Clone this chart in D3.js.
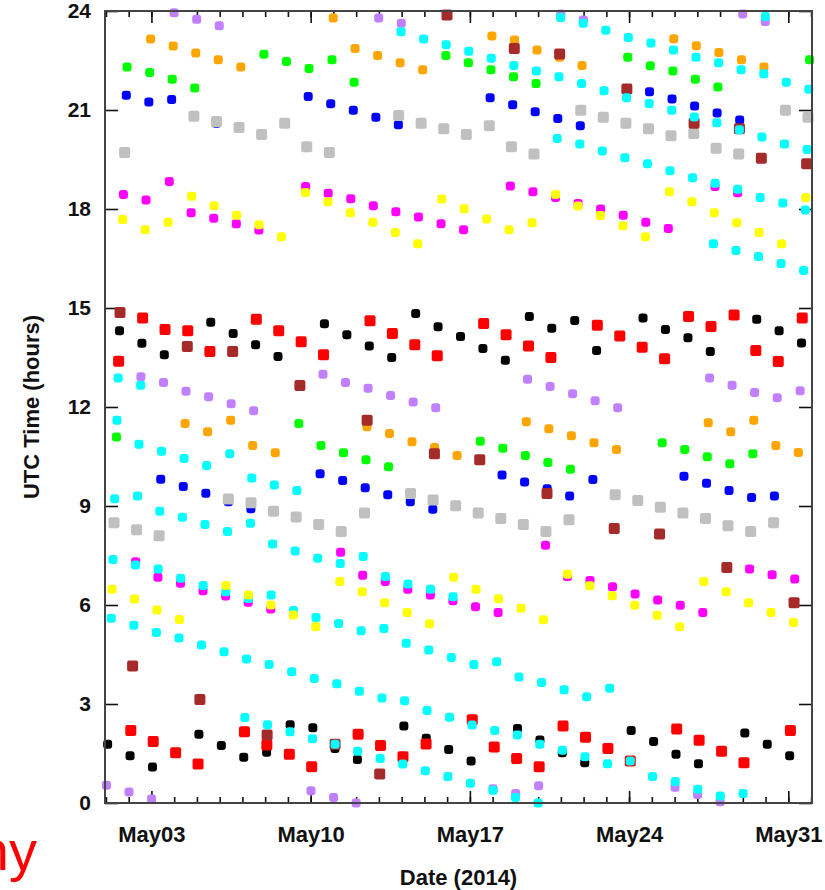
<!DOCTYPE html>
<html>
<head>
<meta charset="utf-8">
<script src="https://cdn.jsdelivr.net/npm/d3@7"></script>
<style>
  body { margin: 0; background: #fff; }
  svg { display: block; font-family: 'Liberation Sans', Arial, Helvetica, sans-serif; }
</style>
</head>
<body>
<svg id="chart" width="825" height="890"></svg>
<script>
// every point is [day of May 2014, UTC hour of the pass]
const black = [
  [1,1.78],[2,1.43],[3,1.09],[5,2.08],[6,1.74],[7,1.39],[8,1.54],[9,2.37],[10,2.28],[11,1.65],[12,1.32],
  [14,2.33],[15,1.96],[16,1.62],[17,1.27],[19,2.26],[20,1.91],[21,1.52],[22,1.22],[24,2.2],[25,1.86],
  [26,1.48],[27,1.19],[29,2.12],[30,1.78],[31,1.43],
  [1,14.31],[2,13.93],[3,13.58],[5,14.57],[6,14.23],[7,13.89],[8,13.53],[10,14.52],[11,14.19],[12,13.85],
  [13,13.5],[14,14.83],[15,14.43],[16,14.14],[17,13.77],[18,13.42],[19,14.74],[20,14.39],[21,14.62],
  [22,13.71],[24,14.7],[25,14.35],[26,14.1],[27,13.68],[29,14.66],[30,14.31],[31,13.94]
];
const red = [
  [2,2.2],[3,1.86],[4,1.52],[5,1.18],[7,2.16],[8,1.76],[9,1.48],[10,1.1],[12,2.08],[13,1.74],[14,1.4],
  [15,1.79],[17,2.52],[18,1.7],[19,1.35],[20,1.1],[21,2.33],[22,1.99],[23,1.65],[24,1.27],[26,2.24],
  [27,1.9],[28,1.57],[29,1.22],[31,2.2],
  [1,13.39],[2,14.7],[3,14.35],[4,14.31],[5,13.68],[7,14.66],[8,14.31],[9,13.98],[10,13.58],[12,14.61],
  [13,14.23],[14,13.89],[15,13.55],[17,14.53],[18,14.19],[19,13.85],[20,13.5],[22,14.48],[23,14.15],
  [24,13.81],[25,13.46],[26,14.74],[27,14.44],[28,14.79],[29,13.71],[30,13.38],[31,14.7]
];
const brown = [
  [1,14.86],[2,4.15],[4,13.83],[5,3.14],[6,13.68],[8,2.06],[9,12.65],[11,1.78],[12,11.6],[13,0.88],
  [15,10.58],[15,23.88],[17,10.4],[18,22.86],[20,9.38],[20,22.7],[23,8.32],[23,21.64],[25,8.15],
  [26,20.6],[28,7.14],[28,20.43],[29,19.54],[31,6.07],[31,19.37]
];
const gray = [
  [1,8.49],[1,19.71],[2,8.28],[3,8.1],[4,20.81],[5,20.65],[6,9.21],[6,20.47],[7,9.1],[7,20.26],[8,8.84],
  [8,20.6],[9,8.67],[9,19.89],[10,8.44],[10,19.71],[11,8.23],[12,8.79],[13,20.83],[14,9.38],[14,20.6],
  [15,9.18],[15,20.43],[16,9.01],[16,20.26],[17,8.79],[17,20.52],[18,8.62],[18,19.89],[19,8.44],
  [19,19.67],[20,8.23],[21,8.58],[21,20.99],[22,20.78],[23,9.34],[23,20.6],[24,9.17],[24,20.43],
  [25,8.96],[25,20.22],[26,8.79],[26,20.29],[27,8.62],[27,19.84],[28,8.4],[28,19.67],[29,8.23],
  [30,8.49],[30,20.99],[31,20.78]
];
const blue = [
  [1,21.45],[2,21.24],[3,21.32],[3,9.81],[4,9.59],[5,9.39],[5,20.6],[6,9.13],[7,8.92],[9,21.41],[10,9.98],
  [10,21.19],[11,9.77],[11,20.99],[12,9.55],[12,20.78],[13,9.34],[13,20.55],[14,9.13],[15,8.9],[17,21.37],
  [18,9.94],[18,21.16],[19,9.73],[19,20.95],[20,9.52],[20,20.74],[21,9.3],[21,20.52],[22,9.8],[24,21.55],
  [25,21.33],[26,9.9],[26,21.12],[27,9.69],[27,20.91],[28,9.47],[28,20.7],[29,9.26],[30,9.3]
];
const green = [
  [1,11.09],[1,22.3],[2,22.14],[3,21.93],[4,21.67],[7,22.69],[8,22.47],[9,11.5],[9,22.26],[10,10.83],
  [10,22.52],[11,10.61],[11,21.84],[12,10.4],[13,10.19],[15,22.65],[16,22.43],[17,10.96],[17,22.22],
  [18,10.75],[18,22.01],[19,10.53],[19,21.8],[20,10.32],[21,10.11],[23,22.6],[24,22.34],[25,10.92],
  [25,22.18],[26,10.71],[26,21.93],[27,10.49],[27,21.7],[28,10.28],[29,10.58],[31,22.52]
];
const orange = [
  [2,23.15],[3,22.94],[4,11.5],[4,22.73],[5,11.25],[5,22.52],[6,11.6],[6,22.3],[7,10.83],[8,10.61],
  [10,23.79],[11,22.86],[12,11.4],[12,22.65],[13,11.2],[13,22.43],[14,10.95],[14,22.22],[15,10.77],
  [16,10.53],[17,23.24],[18,23.12],[19,11.55],[19,22.82],[20,11.34],[20,22.6],[21,11.13],[21,22.35],
  [22,10.92],[23,10.71],[25,23.16],[26,22.95],[27,11.52],[27,22.74],[28,11.25],[28,22.52],[29,11.6],
  [29,22.3],[30,10.83],[31,10.62]
];
const purple = [
  [1,0.54],[2,0.33],[2,12.92],[3,0.12],[3,12.74],[3,23.95],[4,12.48],[4,23.75],[5,12.31],[5,23.55],
  [6,12.1],[7,11.89],[10,0.37],[10,12.99],[11,0.17],[11,12.74],[12,0.0],[12,12.57],[12,23.79],[13,12.35],
  [13,23.63],[14,12.15],[15,11.98],[18,0.43],[19,0.29],[19,12.84],[20,0.52],[20,12.62],[20,23.91],
  [21,12.4],[21,23.73],[22,12.19],[23,11.98],[26,0.48],[27,0.26],[27,12.88],[28,0.04],[28,12.66],
  [28,23.91],[29,12.44],[29,23.68],[30,12.28],[31,12.49]
];
const magenta = [
  [1,18.44],[2,7.31],[2,18.27],[3,6.84],[3,18.83],[4,6.66],[4,17.89],[5,6.43],[5,17.72],[6,6.27],
  [6,17.55],[7,6.08],[7,17.36],[8,5.88],[9,18.68],[10,18.48],[11,7.6],[11,18.31],[12,6.9],[12,18.1],
  [13,6.71],[13,17.92],[14,6.48],[14,17.76],[15,6.3],[15,17.55],[16,6.13],[16,17.37],[17,5.95],[18,5.77],
  [18,18.7],[19,18.52],[20,7.81],[20,18.35],[21,6.86],[21,18.17],[22,6.74],[22,18.0],[23,6.55],[23,17.81],
  [24,6.33],[24,17.6],[25,6.15],[25,17.41],[26,5.99],[27,5.77],[27,18.68],[28,18.49],[29,7.09],[30,6.92],
  [31,6.79]
];
const cyan = [
  [1,12.88],[1,11.6],[1,9.22],[1,7.38],[1,5.6],[2,12.66],[2,10.87],[2,9.3],[2,7.21],[2,5.39],
  [3,10.66],[3,8.84],[3,7.09],[3,5.17],[4,10.44],[4,8.66],[4,6.81],[4,5.0],[5,10.23],[5,8.44],[5,6.59],[5,4.79],
  [6,10.58],[6,8.23],[6,6.4],[6,4.58],[7,9.85],[7,8.48],[7,6.2],[7,4.36],[7,2.59],
  [8,9.64],[8,7.85],[8,6.3],[8,4.2],[8,2.37],[9,9.47],[9,7.64],[9,5.83],[9,3.98],[9,2.16],
  [10,7.42],[10,5.62],[10,3.77],[10,1.95],[11,7.26],[11,5.44],[11,3.61],[11,1.78],
  [12,7.47],[12,5.22],[12,3.39],[12,1.57],[13,6.86],[13,5.29],[13,3.18],[13,1.35],[13,23.37],
  [14,6.64],[14,4.84],[14,3.1],[14,1.18],[14,23.15],[15,6.48],[15,4.64],[15,2.8],[15,0.98],[15,22.98],
  [16,6.25],[16,4.41],[16,2.6],[16,0.8],[16,22.78],[17,4.2],[17,2.36],[17,0.6],[17,22.57],
  [18,4.28],[18,2.2],[18,0.39],[18,22.35],[19,3.82],[19,2.06],[19,0.17],[19,22.18],
  [20,3.65],[20,1.78],[20,0.0],[20,23.8],[20,22.01],[20,20.14],[21,3.43],[21,1.6],[21,23.63],[21,21.8],[21,19.97],
  [22,3.22],[22,1.4],[22,23.42],[22,21.58],[22,19.76],[23,3.48],[23,1.19],[23,23.2],[23,21.37],[23,19.55],
  [24,1.27],[24,23.03],[24,21.2],[24,19.37],[25,0.8],[25,22.82],[25,20.99],[25,19.16],
  [26,0.65],[26,22.6],[26,20.79],[26,18.95],[27,0.42],[27,22.43],[27,20.61],[27,18.78],[27,16.95],
  [28,0.21],[28,22.22],[28,20.4],[28,18.6],[28,16.74],[29,0.29],[29,23.83],[29,22.1],[29,20.18],[29,18.35],[29,16.56],
  [30,21.84],[30,19.97],[30,18.18],[30,16.35],[31,21.63],[31,19.8],[31,17.97],[31,16.14]
];
const yellow = [
  [1,6.48],[1,17.68],[2,6.18],[2,17.37],[3,5.85],[3,17.6],[4,5.56],[4,18.39],[5,18.1],[6,6.59],[6,17.81],
  [7,6.3],[7,17.52],[8,6.0],[8,17.16],[9,5.7],[9,18.5],[10,5.34],[10,18.22],[11,6.71],[11,17.89],[12,6.4],
  [12,17.6],[13,6.07],[13,17.29],[14,5.77],[14,16.95],[15,5.43],[15,18.3],[16,6.84],[16,18.01],[17,6.48],
  [17,17.7],[18,6.19],[18,17.37],[19,5.9],[19,17.58],[20,5.55],[20,18.44],[21,6.93],[21,18.09],[22,6.58],
  [22,17.8],[23,6.28],[23,17.49],[24,5.99],[24,17.16],[25,5.69],[25,18.52],[26,5.34],[26,18.22],[27,6.71],
  [27,17.89],[28,6.4],[28,17.58],[29,6.07],[29,17.29],[30,5.77],[30,16.95],[31,5.47],[31,18.35]
];

const yTicks = [0, 3, 6, 9, 12, 15, 18, 21, 24];
const majorDays = [3, 10, 17, 24, 31];

// drawing order matters, later series sit on top
const series = [
  { color: '#000000', big: false, points: black },
  { color: '#0000ff', big: false, points: blue },
  { color: '#c0c0c0', big: true, points: gray },
  { color: '#00ff00', big: false, points: green },
  { color: '#ffa500', big: false, points: orange },
  { color: '#c080ff', big: false, points: purple },
  { color: '#ff0000', big: true, points: red },
  { color: '#a52a2a', big: true, points: brown },
  { color: '#ff00ff', big: false, points: magenta },
  { color: '#00ffff', big: false, points: cyan },
  { color: '#ffff00', big: false, points: yellow }
];

const margin = { top: 11, right: 13, bottom: 87, left: 105 };
const W = 825, H = 890;
const width = W - margin.left - margin.right;
const height = H - margin.top - margin.bottom;

const svg = d3.select('#chart');
const g = svg.append('g').attr('transform', `translate(${margin.left},${margin.top})`);

const may = (day, hour = 0) => new Date(Date.UTC(2014, 4, day) + hour * 3600000);

const x = d3.scaleUtc()
  .domain([new Date(Date.UTC(2014, 3, 30, 23)), new Date(Date.UTC(2014, 5, 1, 1))])
  .range([0, width]);
const y = d3.scaleLinear().domain([0, 24]).range([height, 0]);

const fmt = d3.utcFormat('%b%d');
const dayTicks = d3.utcDay.range(may(1), may(32, 1));
const majorTicks = majorDays.map(d => may(d));

// minor + major ticks, bottom and top, pointing inward
g.append('g').attr('class', 'x-minor').attr('transform', `translate(0,${height})`)
  .call(d3.axisBottom(x).tickValues(dayTicks).tickSize(-6).tickFormat(''));
g.append('g').attr('class', 'x-minor')
  .call(d3.axisTop(x).tickValues(dayTicks).tickSize(-6).tickFormat(''));
g.append('g').attr('class', 'x-major').attr('transform', `translate(0,${height})`)
  .call(d3.axisBottom(x).tickValues(majorTicks).tickSize(-12).tickPadding(23).tickFormat(fmt));
g.append('g').attr('class', 'x-major')
  .call(d3.axisTop(x).tickValues(majorTicks).tickSize(-12).tickFormat(''));

g.append('g').attr('class', 'y-axis')
  .call(d3.axisLeft(y).tickValues(yTicks).tickSize(-13).tickPadding(14));
g.append('g').attr('class', 'y-axis').attr('transform', `translate(${width},0)`)
  .call(d3.axisRight(y).tickValues(yTicks).tickSize(-13).tickFormat(''));

g.selectAll('.domain').remove();
g.selectAll('.tick line').attr('stroke', '#111').attr('stroke-width', 1.6);
g.selectAll('.x-major .tick text')
  .style('font-size', '22px').style('font-weight', 'bold').attr('fill', '#111')
  .style('font-family', "'Liberation Sans', Arial, sans-serif");
g.selectAll('.y-axis .tick text')
  .style('font-size', '21px').style('font-weight', 'bold').attr('fill', '#111')
  .style('font-family', "'Liberation Sans', Arial, sans-serif");

// points
series.forEach(s => {
  const size = s.big ? 11 : 9;
  g.append('g')
    .selectAll('rect')
    .data(s.points)
    .enter()
    .append('rect')
    .attr('x', d => x(may(d[0], d[1])) - size / 2)
    .attr('y', d => y(d[1]) - size / 2)
    .attr('width', size)
    .attr('height', size)
    .attr('rx', s.big ? 2 : 3)
    .attr('fill', s.color);
});

// frame
g.append('rect')
  .attr('width', width)
  .attr('height', height)
  .attr('fill', 'none')
  .attr('stroke', '#444')
  .attr('stroke-width', 2);

svg.append('text')
  .attr('transform', `translate(31,${margin.top + height / 2}) rotate(-90)`)
  .attr('text-anchor', 'middle')
  .attr('dy', '0.35em')
  .style('font-size', '22px').style('font-weight', 'bold').attr('fill', '#111')
  .text('UTC Time (hours)');

svg.append('text')
  .attr('x', margin.left + width / 2)
  .attr('y', 885)
  .attr('text-anchor', 'middle')
  .style('font-size', '22px').style('font-weight', 'bold').attr('fill', '#111')
  .text('Date (2014)');

// leftover of a label cut off at the page edge
svg.append('text')
  .attr('x', 37)
  .attr('y', 870)
  .attr('text-anchor', 'end')
  .style('font-size', '56px').attr('fill', '#ff0000')
  .text('ny');
</script>
</body>
</html>
